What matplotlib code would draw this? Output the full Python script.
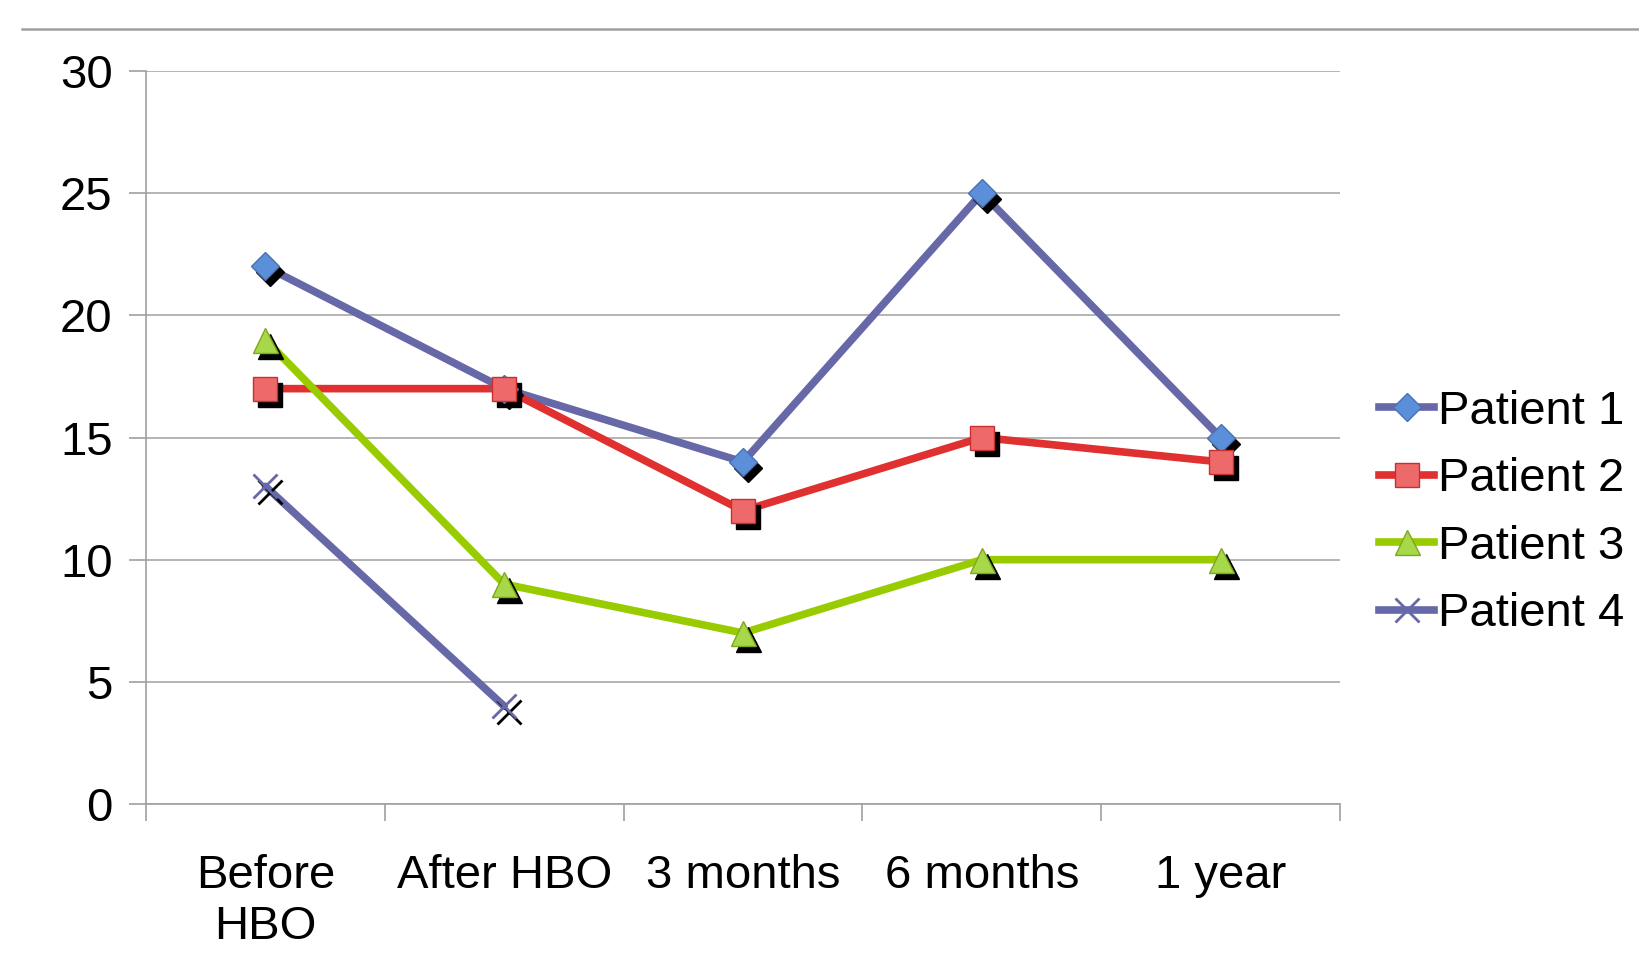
import matplotlib
matplotlib.use("Agg")
import matplotlib.pyplot as plt
import matplotlib.transforms as mtransforms
from matplotlib.lines import Line2D
import numpy as np

plt.rcParams['font.family'] = ['Liberation Sans', 'DejaVu Sans']

# time points and scores per patient
categories = ['Before\nHBO', 'After HBO', '3 months', '6 months', '1 year']
patient1 = [22, 17, 14, 25, 15]
patient2 = [17, 17, 12, 15, 14]
patient3 = [19, 9, 7, 10, 10]
patient4 = [13, 4]

series = [
    ('Patient 1', patient1, '#6768A8', 'D', '#5B8FD9', '#4A72B0', 14),
    ('Patient 2', patient2, '#E0302F', 's', '#EE6A6A', '#C83030', 17),
    ('Patient 3', patient3, '#99CC00', '^', '#A6D84A', '#7FA81A', 18),
    ('Patient 4', patient4, '#6768A8', 'x', '#6768A8', '#6768A8', 17),
]

fig = plt.figure(figsize=(16.39, 9.69), dpi=100)
ax = fig.add_axes([0.0891, 0.1703, 0.7285, 0.7564])

# thin rule across the top of the figure
fig.add_artist(Line2D([22 / 1639, 1.0], [1 - 29 / 969] * 2, color='#A0A0A0', lw=1.8))

x = np.arange(len(categories)) + 0.5
shadow = mtransforms.offset_copy(ax.transData, fig=fig, x=5, y=-6, units='dots')

handles = []
for name, vals, lc, mk, mfc, mec, ms in series:
    xs = x[:len(vals)]
    ax.plot(xs, vals, color=lc, lw=5.5, solid_capstyle='round', zorder=3)
    # drop shadow under each marker
    if mk == 'x':
        ax.plot(xs, vals, ls='none', marker=mk, ms=ms, mew=2, color='black',
                transform=shadow, zorder=4)
        ax.plot(xs, vals, ls='none', marker=mk, ms=ms, mew=2, color=mfc, zorder=5)
    else:
        ax.plot(xs, vals, ls='none', marker=mk, ms=ms, color='black',
                transform=shadow, zorder=4)
        ax.plot(xs, vals, ls='none', marker=mk, ms=ms, mfc=mfc, mec=mec, mew=1, zorder=5)
    handles.append(Line2D([], [], color=lc, lw=5.5, marker=mk, ms=ms,
                          mfc=mfc, mec=mec, mew=2 if mk == 'x' else 1))

ax.set_xlim(0, len(categories))
ax.set_ylim(0, 30)
ax.set_yticks(range(0, 31, 5))
ax.set_xticks(range(0, len(categories) + 1))
ax.set_xticklabels([])
ax.set_xticks(x, minor=True)
ax.set_xticklabels(categories, minor=True)
ax.tick_params(axis='x', which='minor', length=0, pad=36, labelsize=34)
ax.tick_params(axis='x', which='major', length=12, color='#A0A0A0', width=1.2)
ax.tick_params(axis='y', length=12, color='#A0A0A0', width=1.2, labelsize=34, pad=12)

ax.grid(axis='y', color='#A8A8A8', lw=1.2)
ax.set_axisbelow(True)
for s in ['top', 'right']:
    ax.spines[s].set_visible(False)
for s in ['left', 'bottom']:
    ax.spines[s].set_color('#A0A0A0')
    ax.spines[s].set_linewidth(1.2)

ax.legend(handles, [s[0] for s in series], loc='center left',
          bbox_to_anchor=(1.033, 0.397), frameon=False, fontsize=34,
          handlelength=1.15, handletextpad=0.08, labelspacing=0.5,
          borderaxespad=0, borderpad=0)

fig.savefig('out.png', dpi=100)
